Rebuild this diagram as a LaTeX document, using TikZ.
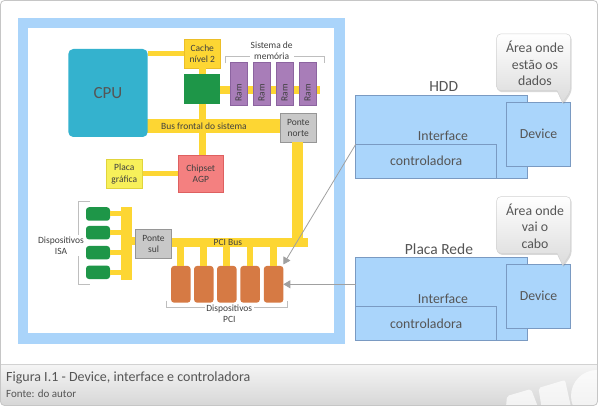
\documentclass[tikz,border=0pt]{standalone}
\usepackage{fontspec}
\setmainfont{Carlito}
\usetikzlibrary{arrows.meta,shadows,calc}
\definecolor{frameblue}{RGB}{170,212,250}
\definecolor{boxblue}{RGB}{170,213,251}
\definecolor{boxedge}{RGB}{122,154,194}
\definecolor{busyel}{RGB}{253,214,51}
\definecolor{busedge}{RGB}{236,190,40}
\definecolor{cpuc}{RGB}{52,178,206}
\definecolor{l2green}{RGB}{30,150,72}
\definecolor{ramc}{RGB}{168,125,184}
\definecolor{ramedge}{RGB}{140,100,160}
\definecolor{agpc}{RGB}{244,128,128}
\definecolor{agpedge}{RGB}{222,96,96}
\definecolor{placac}{RGB}{247,240,90}
\definecolor{placaedge}{RGB}{225,212,60}
\definecolor{bridgec}{RGB}{200,200,200}
\definecolor{bridgeedge}{RGB}{150,150,150}
\definecolor{pcic}{RGB}{214,122,68}
\definecolor{txt}{RGB}{64,64,64}
\definecolor{rtxt}{RGB}{85,85,85}
\definecolor{arrowc}{RGB}{160,160,160}
\definecolor{bracketc}{RGB}{190,190,190}
\begin{document}
\begin{tikzpicture}[x=1pt,y=-1pt,
  comp/.style={inner sep=0pt,outer sep=0pt,align=center,text=txt,font=\fontsize{9.5}{11.5}\selectfont,line width=0.6pt},
  ybox/.style={comp,fill=busyel,draw=busedge},
  gbox/.style={comp,fill=bridgec,draw=bridgeedge},
  bar/.style={draw=busyel,line width=#1},
  ibox/.style={inner sep=0pt,outer sep=0pt,fill=boxblue,draw=boxedge,line width=0.7pt,text=rtxt,font=\fontsize{13.8}{16.7}\selectfont},
  rtext/.style={text=rtxt,font=\fontsize{13.8}{16.7}\selectfont,inner sep=0pt,align=center},
  ttext/.style={text=rtxt,font=\fontsize{15.5}{18}\selectfont,inner sep=0pt},
  brk/.style={draw=bracketc,line width=0.8pt},
  blbl/.style={comp,fill=white,inner sep=1.5pt},
  arr/.style={draw=arrowc,line width=0.8pt,-{Triangle[length=7pt,width=8pt]}},
  note/.style={draw=gray!35,line width=0.5pt,top color=white,bottom color=gray!28,drop shadow={opacity=0.3,shadow xshift=1pt,shadow yshift=-1.5pt}},
  isadev/.style={fill=l2green,rounded corners=3pt,minimum width=24pt,minimum height=13.5pt,inner sep=0pt,outer sep=0pt},
  pcidev/.style={fill=pcic,rounded corners=3pt,minimum width=19.5pt,minimum height=36.7pt,inner sep=0pt,outer sep=0pt},
  ramdev/.style={fill=ramc,draw=ramedge,line width=0.6pt,minimum width=17.3pt,minimum height=43.3pt,inner sep=0pt,outer sep=0pt},
]
\useasboundingbox (0,0) rectangle (598,406);
\begin{scope}
\clip[rounded corners=4pt] (0.5,0.5) rectangle (597.5,405.5);
\fill[white] (0,0) rectangle (598,406);
% footer
\shade[top color=gray!8,bottom color=gray!32] (0,364.3) rectangle (598,406);
\fill[white,opacity=0.7,rounded corners=2pt] (506,407) -- (507,396) -- (531,389) -- (538,407) -- cycle;
\fill[white,opacity=0.7,rounded corners=2pt] (541.5,407) -- (538.5,388) -- (565,380) -- (571,407) -- cycle;
\fill[white,opacity=0.7] (597,396) circle (26);
\draw[gray!35,line width=0.6pt] (0,364.3) -- (598,364.3);
\end{scope}
\draw[gray!45,line width=0.8pt,rounded corners=4pt] (0.5,0.5) rectangle (597.5,405.5);
\node[anchor=west,inner sep=0pt,text=rtxt,font=\fontsize{14}{16}\selectfont] (caption) at (6,377.5) {Figura I.1 - Device, interface e controladora};
\node[anchor=west,inner sep=0pt,text=rtxt,font=\fontsize{11}{13}\selectfont] (source) at (6,393.5) {Fonte: do autor};

% left frame
\fill[frameblue] (18,18) rectangle (344.5,344);
\fill[white] (28,28) rectangle (333.5,333.3);

% buses (behind)
\node[comp,fill=busyel,minimum width=152pt,minimum height=14.3pt] (busf) at (204,126.15) {Bus frontal do sistema};
\node[comp,fill=busyel,minimum width=159.7pt,minimum height=8.4pt] (pcibus) at (227.85,242.5) {PCI Bus};
\coordinate (memend) at (320,90.3);

% components
\node[comp,fill=cpuc,rounded corners=5pt,minimum width=79.4pt,minimum height=88pt,text=rtxt,font=\fontsize{17}{20}\selectfont] (cpu) at (108,93) {CPU};
\node[ybox,minimum width=36pt,minimum height=28.7pt] (cache) at (202.3,53.7) {Cache\\nível 2};
\node[comp,fill=l2green,minimum width=36pt,minimum height=29.7pt] (ctrl) at (202.3,88.8) {};
\node[gbox,minimum width=36.7pt,minimum height=29pt] (pn) at (298.3,127.8) {Ponte\\norte};
\node[comp,fill=agpc,draw=agpedge,minimum width=45pt,minimum height=37.7pt] (agp) at (200.8,173.8) {Chipset\\AGP};
\node[comp,fill=placac,draw=placaedge,minimum width=36.7pt,minimum height=29.4pt] (placa) at (124.3,174) {Placa\\gráfica};
\node[gbox,minimum width=36.4pt,minimum height=29pt] (ps) at (153.5,243.8) {Ponte\\sul};
\node[comp,fill=busyel,minimum width=11pt,minimum height=73.3pt] (isabus) at (126.2,243.3) {};

% bars
\draw[bar=5pt] (cpu.east |- cache.west) -- (cache.west);
\draw[bar=6.7pt] (cache.south) -- (ctrl.north);
\draw[bar=6.7pt] (ctrl.south) -- (ctrl.south |- busf.north);
\draw[bar=6.7pt] (ctrl.south |- busf.south) -- (ctrl.south |- agp.north);
\draw[bar=5pt] (placa.east) -- (agp.west |- placa.east);
\draw[bar=8pt] (ctrl.east |- memend) -- (memend);
\draw[bar=10.5pt] ([xshift=-1pt]pn.south) -- ([xshift=-1pt]pn.south |- pcibus.north);
\draw[bar=8.3pt] ([yshift=3pt]isabus.east |- ps.west) -- ([yshift=3pt]ps.west);

% RAM
\foreach \i in {1,2,3,4}{
  \node[ramdev] (ram\i) at ({238.7+23*(\i-1)},83.7) {};
  \node[comp,rotate=90] (ramt\i) at ($(ram\i.south)+(0,-12.5)$) {Ram};
}
\draw[brk] (225.7,63.3) -- (225.7,56.7) -- (324.3,56.7) -- (324.3,63.3);
\node[blbl,inner sep=1pt] (memlbl) at (271.7,50.9) {Sistema de\\memória};

% ISA
\foreach \i/\y in {1/214,2/232.7,3/252.7,4/272.3}{
  \node[isadev] (isa\i) at (98,\y) {};
  \draw[bar=5pt] (isa\i.east) -- (isabus.west |- isa\i.east);
}
\draw[brk] (90,201.7) -- (78.3,201.7) -- (78.3,284.3) -- (90,284.3);
\node[blbl] (isalbl) at (61,245.5) {Dispositivos\\ISA};

% PCI
\foreach \i/\x in {1/180.8,2/203.8,3/226.8,4/250.1,5/273.6}{
  \node[pcidev] (pci\i) at (\x,284.3) {};
  \draw[bar=6.7pt] (pci\i.north) -- (pci\i.north |- pcibus.south);
}
\draw[brk] (166.7,300.7) -- (166.7,307) -- (287.7,307) -- (287.7,300.7);
\node[blbl] (pcilbl) at (229.3,313.8) {Dispositivos\\PCI};

% HDD group
\node[ttext] (hddtitle) at (443.7,87) {HDD};
\node[ibox,minimum width=171.6pt,minimum height=82.3pt] (hdd) at (441.5,136.85) {};
\node[ibox,minimum width=141pt,minimum height=33.7pt] (hddctl) at (426.2,161.15) {controladora};
\node[rtext] (hddif) at (443,136.2) {Interface};
\node[ibox,minimum width=64.4pt,minimum height=64pt] (hdddev) at (538.5,134) {Device};
\path[note] (496.7,34) [rounded corners=4pt] -- (570.7,34) -- (570.7,90.7) [sharp corners] -- (562.7,102.7) -- (557,90.7) [rounded corners=4pt] -- (496.7,90.7) -- cycle;
\node[rtext] (hddnote) at (535,63.3) {Área onde\\estão os\\dados};

% Network card group
\node[ttext] (nettitle) at (439,249.3) {Placa Rede};
\node[ibox,minimum width=171.6pt,minimum height=82.3pt] (net) at (441.5,299) {};
\node[ibox,minimum width=141pt,minimum height=33.7pt] (netctl) at (426.2,323.5) {controladora};
\node[rtext] (netif) at (443,298.5) {Interface};
\node[ibox,minimum width=64.4pt,minimum height=64pt] (netdev) at (538.5,296.3) {Device};
\path[note] (496.7,196.7) [rounded corners=4pt] -- (570.7,196.7) -- (570.7,253.3) [sharp corners] -- (562.7,265.3) -- (557,253.3) [rounded corners=4pt] -- (496.7,253.3) -- cycle;
\node[rtext] (netnote) at (535,226) {Área onde\\vai o\\cabo};

% arrows
\draw[arr] (hddctl.north west) -- ([yshift=1.5pt]pci5.north east);
\draw[arr] (net.west |- pci5.east) -- (pci5.east);
\end{tikzpicture}
\end{document}
